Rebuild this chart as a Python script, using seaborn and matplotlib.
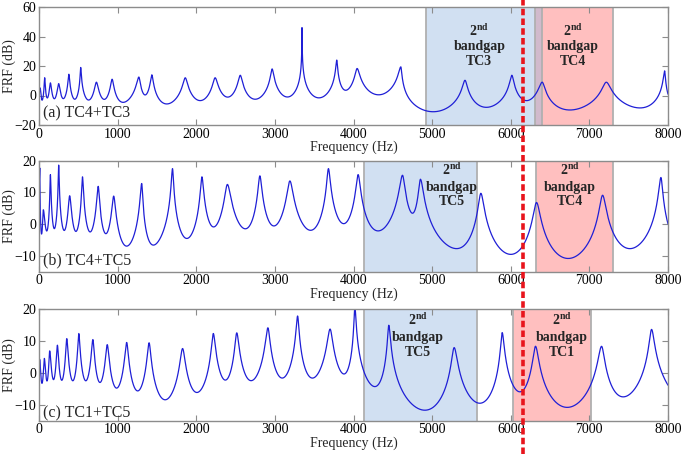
import numpy as np
import matplotlib
matplotlib.use("Agg")
import matplotlib.pyplot as plt
import matplotlib.transforms as mtransforms
import seaborn as sns

# ---------------- data ----------------
# Panel (a) TC4+TC3
peaks_a_f = [15, 72, 145, 250, 380, 530, 730, 930, 1270, 1435, 1860, 2240, 2560, 2965,
             3345, 3787, 4046, 4602, 5418, 6014, 6400, 7215, 7957]
peaks_a_db = [5, 12, 8.5, 8, 14.4, 19, 9, 11, 12.5, 14, 12, 12, 13.7, 18,
              46, 24, 18.3, 19.4, 10.3, 13.7, 9, 9, 16.7]
valleys_a_f = [40, 105, 195, 310, 455, 630, 830, 1070, 1350, 1625, 2050, 2400, 2750,
               3160, 3560, 3900, 4320, 5013, 5690, 6200, 6752, 7644]
valleys_a_db = [-3, -1.5, -2, -2, -2.5, -3, -2.5, -4.6, 0.5, -5.7, -3.4, -1, -2.5,
                -1, -1.6, 3.6, 0.5, -11, -8, -3.4, -9.8, -8.4]
ends_a_db = [2, 1]

# Panel (b) TC4+TC5
peaks_b_f = [10, 55, 145, 250, 390, 553, 753, 950, 1306, 1698, 2072, 2396, 2809, 3191,
             3681, 4059, 4623, 4852, 5620, 6328, 7168, 7910]
peaks_b_db = [17.7, 4.4, 15.6, 18.6, 8.9, 14.9, 11.9, 8.8, 12.8, 17.5, 14.9, 12.5, 15.2,
              13.6, 17.5, 15.6, 15.4, 14.1, 9.7, 6.8, 9.1, 14.7]
valleys_b_f = [32, 100, 195, 320, 470, 650, 850, 1115, 1455, 1880, 2220, 2625, 2987,
               3455, 3875, 4313, 4750, 5310, 6000, 6731, 7516]
valleys_b_db = [-2.9, -1.9, -1.4, -1.9, -2.2, -2.4, -2.9, -6.9, -6.6, -4.5, -0.8, -1.4,
                -0.5, -1.9, 0.2, -2.1, 3.6, -7.7, -9.5, -10.8, -7.7]
ends_b_db = [12, 0.2]

# Panel (c) TC1+TC5
peaks_c_f = [8, 68, 136, 234, 353, 506, 685, 868, 1115, 1400, 1826, 2217, 2515, 2911,
             3289, 3702, 4017, 4449, 5280, 5891, 6315, 7155, 7791]
peaks_c_db = [4.1, 4.4, 6.8, 8.6, 10.7, 12.3, 10.4, 8.8, 9.5, 9.4, 7.6, 12.3, 12.5, 14.1,
              17.8, 13.7, 21, 14.9, 7.9, 12.6, 8.3, 8.3, 13.6]
valleys_c_f = [38, 102, 185, 290, 430, 595, 775, 987, 1255, 1604, 2009, 2370, 2698, 3094,
               3477, 3880, 4271, 4907, 5607, 6115, 6718, 7431]
valleys_c_db = [-2.9, -2.2, -1.9, -2.2, -2.4, -2.4, -2.9, -4.7, -5.6, -8.4, -6.1, -2.2,
                -2.4, -1.6, -1.6, -0.3, -4.3, -11.7, -9.5, -5.9, -10.8, -7.5]
ends_c_db = [-1, -3.8]

# Bandgap spans (Hz) and labels
gap_blue = [(4920, 6400), (4135, 5577), (4135, 5577)]
gap_pink = [(6307, 7295), (6320, 7304), (6023, 7020)]
gap_blue_label = ["TC3", "TC5", "TC5"]
gap_pink_label = ["TC4", "TC4", "TC1"]
gap_blue_text_f = [5600, 5247, 4820]
gap_pink_text_f = [6790, 6753, 6647]
gap_text_db = [(43.8, 33.5, 23.3), (17.0, 11.7, 7.0), (16.5, 11.2, 6.5)]

panel_labels = ["(a) TC4+TC3", "(b) TC4+TC5", "(c) TC1+TC5"]
ylims = [(-20, 60), (-15, 20), (-15, 20)]
yticks = [[-20, 0, 20, 40, 60], [-10, 0, 10, 20], [-10, 0, 10, 20]]
xticks = [0, 1000, 2000, 3000, 4000, 5000, 6000, 7000, 8000]
marker_f = 6158
F_MAX = 8000


def frf_curve(f, pf, pdb, vf, vdb, ends):
    """Resonance-shaped curve through the read peaks and valleys."""
    pf = np.asarray(pf, float); pdb = np.asarray(pdb, float)
    vf = np.asarray(vf, float); vdb = np.asarray(vdb, float)
    out = np.zeros_like(f)
    r = pf[0] * 10 ** (ends[0] / 20)
    g = r / 10 ** (pdb[0] / 20)
    m = f <= pf[0]
    out[m] = 10 * np.log10(r ** 2 / ((pf[0] - f[m]) ** 2 + g ** 2))
    for k in range(len(pf) - 1):
        a, b = pf[k], pf[k + 1]
        x, y = vf[k] - a, b - vf[k]
        c = np.sqrt(10 ** (vdb[k] / 10) * y ** 3 / (x + y))
        rR, rL = c, c * (x / y) ** 1.5
        gL, gR = rL / 10 ** (pdb[k] / 20), rR / 10 ** (pdb[k + 1] / 20)
        m = (f >= a) & (f <= b)
        out[m] = 10 * np.log10(rL ** 2 / ((f[m] - a) ** 2 + gL ** 2)
                               + rR ** 2 / ((b - f[m]) ** 2 + gR ** 2))
    r = (F_MAX - pf[-1]) * 10 ** (ends[1] / 20)
    g = r / 10 ** (pdb[-1] / 20)
    m = f >= pf[-1]
    out[m] = 10 * np.log10(r ** 2 / ((f[m] - pf[-1]) ** 2 + g ** 2))
    return out


panels = [
    (peaks_a_f, peaks_a_db, valleys_a_f, valleys_a_db, ends_a_db),
    (peaks_b_f, peaks_b_db, valleys_b_f, valleys_b_db, ends_b_db),
    (peaks_c_f, peaks_c_db, valleys_c_f, valleys_c_db, ends_c_db),
]

# ---------------- styling ----------------
sns.set_theme(style="ticks")
plt.rcParams["font.family"] = ["Liberation Serif", "DejaVu Serif"]
plt.rcParams["mathtext.fontset"] = "custom"
plt.rcParams["mathtext.rm"] = "Liberation Serif"
plt.rcParams["mathtext.bf"] = "Liberation Serif:bold"

fig = plt.figure(figsize=(6.85, 4.54), dpi=100)
left, width = 39 / 685, 629 / 685
rects = [(125, 118), (271.7, 111), (420.7, 111.7)]   # (bottom px, height px)
axes = [fig.add_axes([left, 1 - b / 454, width, h / 454]) for b, h in rects]

spine_col = "#8c8c8c"
for i, ax in enumerate(axes):
    pf, pdb, vf, vdb, ends = panels[i]
    f = np.union1d(np.linspace(0, F_MAX, 32001), np.asarray(pf, float))
    db = frf_curve(f, pf, pdb, vf, vdb, ends)

    ax.axvspan(*gap_pink[i], facecolor="#ff7373", alpha=0.45, edgecolor="none", zorder=0)
    ax.axvspan(*gap_blue[i], facecolor="#8cb3e0", alpha=0.40, edgecolor="none", zorder=0.1)
    for span in (gap_pink[i], gap_blue[i]):
        for xv in span:
            ax.axvline(xv, color="#b0b0b0", lw=1.3, zorder=0.2)

    sns.lineplot(x=f, y=db, ax=ax, color="#1f1fd6", linewidth=0.9,
                 estimator=None, sort=False, zorder=3)

    for xt, lab in ((gap_blue_text_f[i], gap_blue_label[i]),
                    (gap_pink_text_f[i], gap_pink_label[i])):
        y1, y2, y3 = gap_text_db[i]
        ax.text(xt, y1, r"$\mathbf{2^{nd}}$", ha="center", va="center", fontsize=10, zorder=4)
        ax.text(xt, y2, "bandgap", ha="center", va="center", fontsize=10,
                fontweight="bold", zorder=4)
        ax.text(xt, y3, lab, ha="center", va="center", fontsize=10,
                fontweight="bold", zorder=4)

    ax.text(0.006, [0.10, 0.105, 0.066][i], panel_labels[i], transform=ax.transAxes,
            ha="left", va="center", fontsize=11.5, zorder=5)

    ax.set_xlim(0, F_MAX)
    ax.set_ylim(*ylims[i])
    ax.set_xticks(xticks)
    ax.set_yticks(yticks[i])
    ax.set_xlabel("Frequency (Hz)", fontsize=10, labelpad=0)
    ax.set_ylabel("FRF (dB)", fontsize=10)
    ax.yaxis.set_label_coords(-0.036, 0.5)
    ax.tick_params(direction="in", length=4, width=0.8, color=spine_col,
                   top=True, right=True, labelsize=10, pad=2, labelcolor="black")
    for s in ax.spines.values():
        s.set_color(spine_col)
        s.set_linewidth(1.0)
        s.set_zorder(6)
    ax.set_facecolor("white")

# red dashed marker spanning the whole figure
trans = mtransforms.blended_transform_factory(axes[0].transData, fig.transFigure)
line = plt.Line2D([marker_f, marker_f], [0, 1], transform=trans, color="#e8141c",
                  lw=2.6, linestyle=(0, (1.8, 0.9)), zorder=10)
fig.add_artist(line)

fig.savefig("out.png", dpi=100, facecolor="white")
